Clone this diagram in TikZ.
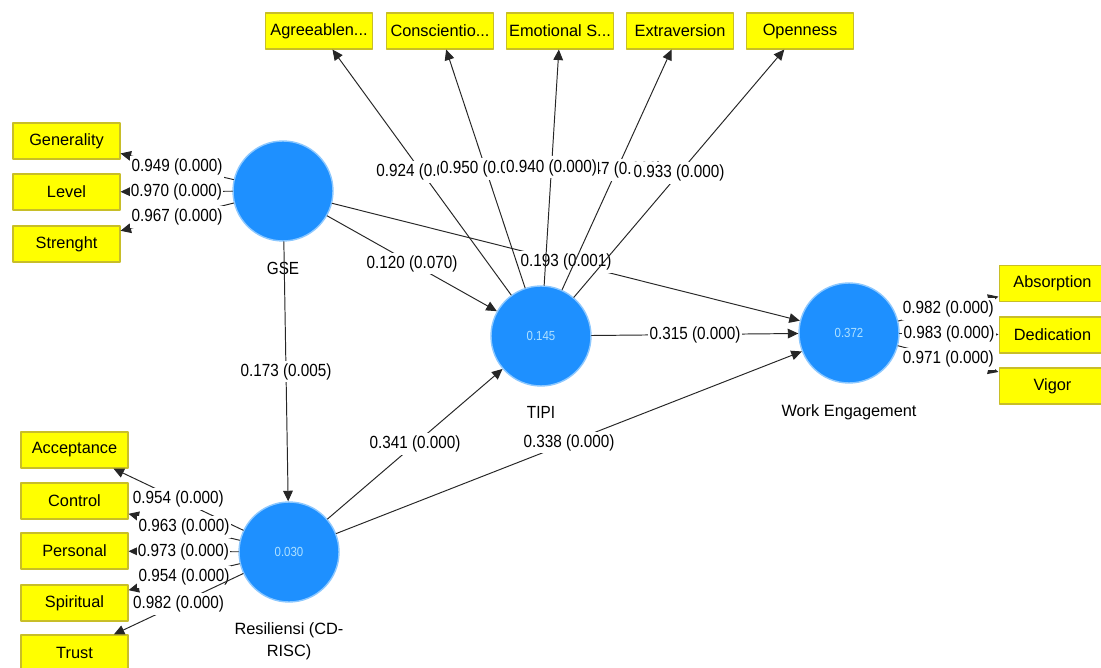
\documentclass[tikz,border=0pt]{standalone}
\usepackage{fontspec}
\setmainfont{Liberation Sans}
\newfontfamily\numfont{Liberation Sans}[FakeStretch=0.87]
\usetikzlibrary{arrows.meta,positioning}
\definecolor{lvblue}{RGB}{30,144,255}
\definecolor{lvedge}{RGB}{140,200,255}
\definecolor{lvtext}{RGB}{175,225,255}
\definecolor{indfill}{RGB}{255,255,0}
\definecolor{indedge}{RGB}{200,190,40}

\begin{document}
\begin{tikzpicture}[x=0.02cm, y=-0.02cm, line join=round, line cap=round,
	latent/.style={circle, fill=lvblue, draw=lvedge, line width=0.8pt, minimum size=2cm, inner sep=0pt, text=lvtext, font=\numfont\fontsize{7.5}{8}\selectfont},
	indbox/.style={rectangle, fill=indfill, draw=indedge, line width=0.6pt, minimum width=2.14cm, minimum height=0.72cm, inner sep=0pt, font=\fontsize{9.3}{11}\selectfont},
	link/.style={draw=black!85, line width=0.55pt, -{Triangle[length=6pt,width=5.5pt]}},
	coef/.style={fill=white, inner xsep=0.8pt, inner ysep=1.6pt, font=\numfont\fontsize{10}{11}\selectfont},
	lvname/.style={font=\fontsize{9.3}{12.5}\selectfont, align=center}]
	\useasboundingbox (0,0) rectangle (1101,668);
	\fill[white] (0,0) rectangle (1101,668);
	% latent variables
	\node[latent] (gse) at (283,191) {};
	\node[latent] (tipi) at (541,336) {0.145};
	\node[latent] (we) at (849,333) {0.372};
	\node[latent] (res) at (289,552) {0.030};
	\node[lvname, font=\numfont\fontsize{10}{11}\selectfont, below=0.28cm of gse] {GSE};
	\node[lvname, font=\numfont\fontsize{10}{11}\selectfont, below=0.28cm of tipi] {TIPI};
	\node[lvname, below=0.3cm of we] {Work Engagement};
	\node[lvname, below=0.28cm of res] {Resiliensi (CD-\\RISC)};
	% indicators
	\node[indbox] (gen) at (66.5,141) {Generality};
	\node[indbox] (lev) at (66.5,192) {Level};
	\node[indbox] (str) at (66.5,244) {Strenght};
	\node[indbox] (acc) at (74.5,450) {Acceptance};
	\node[indbox] (con) at (74.5,501) {Control};
	\node[indbox] (per) at (74.5,551) {Personal};
	\node[indbox] (spi) at (74.5,603) {Spiritual};
	\node[indbox] (tru) at (74.5,653) {Trust};
	\node[indbox] (agr) at (319,31) {Agreeablen...};
	\node[indbox] (csc) at (440,31) {Conscientio...};
	\node[indbox] (emo) at (560,31) {Emotional S...};
	\node[indbox] (ext) at (680,31) {Extraversion};
	\node[indbox] (ope) at (800,31) {Openness};
	\node[indbox] (abs) at (1052.5,283.5) {Absorption};
	\node[indbox] (ded) at (1052.5,335) {Dedication};
	\node[indbox] (vig) at (1052.5,386) {Vigor};
	% inner model
	\draw[link] (gse) -- node[coef] {0.193 (0.001)} (we);
	\draw[link] (gse) -- node[coef] {0.120 (0.070)} (tipi);
	\draw[link] (gse) -- node[coef] {0.173 (0.005)} (res);
	\draw[link] (tipi) -- node[coef] {0.315 (0.000)} (we);
	\draw[link] (res) -- node[coef] {0.341 (0.000)} (tipi);
	\draw[link] (res) -- node[coef] {0.338 (0.000)} (we);
	% outer loadings
	\draw[link] (gse) -- node[coef] {0.949 (0.000)} (gen);
	\draw[link] (gse) -- node[coef] {0.970 (0.000)} (lev);
	\draw[link] (gse) -- node[coef] {0.967 (0.000)} (str);
	\draw[link] (res) -- node[coef] {0.954 (0.000)} (acc);
	\draw[link] (res) -- node[coef] {0.963 (0.000)} (con);
	\draw[link] (res) -- node[coef] {0.973 (0.000)} (per);
	\draw[link] (res) -- node[coef] {0.954 (0.000)} (spi);
	\draw[link] (res) -- node[coef] {0.982 (0.000)} (tru);
	\draw[link] (we) -- node[coef] {0.982 (0.000)} (abs);
	\draw[link] (we) -- node[coef] {0.983 (0.000)} (ded);
	\draw[link] (we) -- node[coef] {0.971 (0.000)} (vig);
	\draw[link] (tipi) -- node[coef] {0.924 (0.000)} (agr);
	\draw[link] (tipi) -- node[coef] {0.950 (0.000)} (csc);
	\draw[link] (tipi) -- node[coef] {0.947 (0.000)} (ext);
	\draw[link] (tipi) -- node[coef] {0.940 (0.000)} (emo);
	\draw[link] (tipi) -- node[coef] {0.933 (0.000)} (ope);
\end{tikzpicture}
\end{document}
